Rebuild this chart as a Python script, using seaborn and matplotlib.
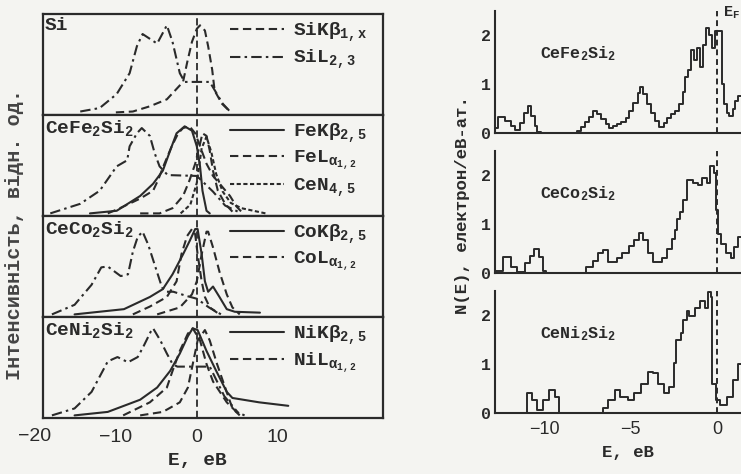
import matplotlib
matplotlib.use('Agg')
import matplotlib.pyplot as plt
import seaborn as sns

# ---------------- data: left panels (normalised intensity vs E, eV) ----------------
si_L_E = [-14.4, -12.0, -9.9, -8.3, -7.4, -6.7, -4.9, -3.7, -3.0, -2.1, -1.5, 1.6, 2.5, 3.2, 4.1]
si_L_I = [0.01, 0.05, 0.21, 0.45, 0.76, 0.90, 0.79, 1.00, 0.81, 0.45, 0.35, 0.35, 0.21, 0.10, 0.01]
si_K_E = [-10.0, -7.9, -5.8, -3.7, -2.5, -1.7, -1.2, -0.6, 0.0, 0.4, 1.0, 1.4, 1.9, 2.2, 3.1, 4.1]
si_K_I = [0.0, 0.01, 0.07, 0.15, 0.27, 0.35, 0.57, 0.81, 0.96, 1.00, 0.94, 0.76, 0.49, 0.25, 0.10, 0.01]

fe_siL_E = [-18.1, -14.4, -12.0, -9.9, -8.6, -8.3, -7.4, -6.8, -5.8, -5.2, -4.6, -3.6, 0.0, 2.0, 3.5, 5.3]
fe_siL_I = [0.0, 0.11, 0.26, 0.54, 0.61, 0.77, 0.92, 0.98, 0.89, 0.69, 0.54, 0.44, 0.43, 0.25, 0.09, 0.01]
fe_K_E = [-13.2, -9.9, -7.0, -5.4, -4.2, -3.3, -2.5, -1.5, -0.6, 0.0, 0.4, 0.7, 1.2, 1.6]
fe_K_I = [0.0, 0.03, 0.20, 0.34, 0.49, 0.72, 0.92, 1.00, 0.95, 0.77, 0.54, 0.26, 0.03, 0.0]
fe_L_E = [-11.0, -9.5, -7.0, -5.4, -4.8, -4.0, -3.1, -2.3, -1.7, -0.9, -0.2, 0.4, 1.2, 2.0, 3.1, 4.1, 4.9, 5.7]
fe_L_I = [0.0, 0.06, 0.17, 0.26, 0.38, 0.57, 0.77, 0.92, 0.98, 1.00, 0.92, 0.77, 0.57, 0.43, 0.31, 0.20, 0.08, 0.0]
fe_siK_E = [-7.0, -4.6, -3.0, -1.7, -0.9, -0.2, 0.4, 0.7, 1.2, 1.6, 2.0, 2.6, 3.5, 4.4]
fe_siK_I = [0.0, 0.0, 0.06, 0.20, 0.38, 0.57, 0.80, 0.92, 0.89, 0.72, 0.49, 0.26, 0.11, 0.02]
fe_ceN_E = [-2.0, -0.8, 0.0, 0.6, 1.2, 1.8, 2.4, 3.2, 4.2, 5.5, 7.0, 8.5]
fe_ceN_I = [0.0, 0.10, 0.35, 0.75, 0.88, 0.70, 0.45, 0.25, 0.12, 0.06, 0.03, 0.0]

co_siL_E = [-17.9, -15.1, -13.0, -11.8, -11.0, -9.4, -8.5, -7.9, -7.3, -6.7, -6.0, -5.1, -4.3, -3.7, -2.9, -1.2, 0.0, 1.5, 3.0]
co_siL_I = [0.0, 0.11, 0.34, 0.54, 0.55, 0.44, 0.46, 0.72, 0.89, 0.95, 0.80, 0.54, 0.31, 0.26, 0.26, 0.21, 0.18, 0.08, 0.0]
co_K_E = [-15.1, -9.0, -5.8, -4.2, -3.0, -1.7, -0.9, -0.2, 0.1, 0.6, 1.0, 1.4, 2.0, 2.8, 3.7, 4.7, 7.8]
co_K_I = [0.0, 0.06, 0.20, 0.29, 0.46, 0.69, 0.84, 0.98, 0.98, 0.69, 0.38, 0.26, 0.32, 0.20, 0.06, 0.03, 0.02]
co_L_E = [-7.9, -5.8, -3.7, -2.5, -1.9, -1.2, -0.6, -0.2, 0.1, 0.6, 1.0, 1.6, 2.8]
co_L_I = [0.0, 0.09, 0.20, 0.38, 0.69, 0.90, 0.98, 0.92, 0.69, 0.38, 0.20, 0.08, 0.0]
co_siK_E = [-4.9, -2.1, -0.6, 0.0, 0.6, 1.2, 1.4, 2.0, 2.8, 3.7, 4.4, 5.3]
co_siK_I = [0.0, 0.08, 0.23, 0.38, 0.69, 0.95, 0.95, 0.77, 0.49, 0.23, 0.08, 0.0]

ni_siL_E = [-17.9, -15.1, -13.0, -11.0, -9.8, -8.5, -7.3, -6.6, -5.7, -5.4, -4.5, -3.7, -3.0, -2.4, 0.0, 1.6, 3.4, 5.2]
ni_siL_I = [0.0, 0.08, 0.27, 0.62, 0.67, 0.61, 0.67, 0.79, 0.96, 1.00, 0.86, 0.71, 0.59, 0.56, 0.56, 0.56, 0.22, 0.02]
ni_K_E = [-15.1, -11.0, -7.0, -4.9, -3.3, -2.1, -1.1, -0.5, 0.1, 1.2, 2.4, 3.7, 4.4, 7.7, 11.3]
ni_K_I = [0.0, 0.04, 0.18, 0.32, 0.51, 0.71, 0.91, 1.00, 0.98, 0.74, 0.51, 0.27, 0.20, 0.15, 0.11]
ni_L_E = [-9.1, -5.8, -3.7, -3.0, -2.1, -1.1, -0.5, 0.4, 1.2, 2.0, 3.7, 4.9, 5.9]
ni_L_I = [0.0, 0.15, 0.32, 0.51, 0.74, 0.94, 1.00, 0.86, 0.59, 0.39, 0.15, 0.04, 0.0]
ni_siK_E = [-7.0, -4.2, -2.1, -1.1, -0.5, 0.1, 1.0, 1.6, 2.5, 3.5, 4.4, 5.3]
ni_siK_I = [0.0, 0.04, 0.15, 0.32, 0.59, 0.86, 0.98, 0.86, 0.59, 0.32, 0.08, 0.0]

# ---------------- data: right panels (DOS histograms, step edges) ----------------
dos_fe_E = [-12.85, -12.65, -12.25, -11.95, -11.7, -11.4, -11.2, -10.95, -10.75, -10.55, -10.4, -10.2,
            -8.1, -7.85, -7.65, -7.4, -7.2, -6.95, -6.7, -6.45, -6.25, -6.0, -5.8, -5.55, -5.3, -5.1,
            -4.85, -4.6, -4.45, -4.3, -4.05, -3.8, -3.6, -3.35, -3.1, -2.9, -2.65, -2.45, -2.2, -2.0,
            -1.85, -1.7, -1.5, -1.35, -1.15, -1.0, -0.8, -0.65, -0.45, -0.3, -0.15, 0.3, 0.4, 0.55,
            0.7, 0.9, 1.05, 1.2, 1.6]
dos_fe_N = [0.10, 0.33, 0.25, 0.15, 0.06, 0.20, 0.40, 0.55, 0.35, 0.15, 0.02, 0.0,
            0.05, 0.12, 0.22, 0.32, 0.45, 0.38, 0.28, 0.18, 0.10, 0.14, 0.18, 0.22, 0.30, 0.45,
            0.62, 0.82, 0.95, 0.80, 0.60, 0.42, 0.25, 0.12, 0.20, 0.30, 0.38, 0.45, 0.60, 0.85,
            1.15, 1.30, 1.70, 1.50, 1.75, 1.35, 1.80, 2.15, 2.00, 1.75, 2.10, 1.00, 0.60, 0.40,
            0.35, 0.50, 0.65, 0.75, 0.75]
dos_co_E = [-12.85, -12.4, -11.95, -11.6, -11.1, -10.8, -10.6, -10.3, -10.1, -9.9,
            -7.6, -7.2, -6.9, -6.6, -6.3, -5.8, -5.5, -5.1, -4.8, -4.5, -4.3, -4.0, -3.7, -3.2,
            -2.9, -2.6, -2.45, -2.3, -2.15, -2.0, -1.75, -1.4, -1.1, -0.85, -0.6, -0.4, -0.2,
            -0.05, 0.05, 0.2, 0.5, 0.8, 0.95, 1.2, 1.6]
dos_co_N = [0.05, 0.33, 0.12, 0.02, 0.20, 0.35, 0.50, 0.33, 0.05, 0.0,
            0.12, 0.25, 0.40, 0.47, 0.22, 0.30, 0.40, 0.55, 0.68, 0.82, 0.68, 0.40, 0.22, 0.30,
            0.50, 0.70, 0.88, 1.10, 1.25, 1.50, 1.90, 1.85, 1.80, 1.95, 1.85, 2.20, 2.05,
            1.30, 0.80, 0.60, 0.40, 0.30, 0.53, 0.73, 0.73]
dos_ni_E = [-12.85, -11.0, -10.7, -10.4, -10.1, -9.7, -9.4, -9.15,
            -6.6, -6.3, -5.9, -5.6, -5.15, -4.8, -4.4, -4.0, -3.7, -3.4, -3.1, -2.8, -2.5, -2.4,
            -2.1, -1.95, -1.75, -1.6, -1.3, -1.0, -0.7, -0.5, -0.35, -0.3, -0.05, 0.15, 0.55,
            0.9, 1.2, 1.6]
dos_ni_N = [0.0, 0.40, 0.27, 0.06, 0.27, 0.47, 0.33, 0.0,
            0.10, 0.27, 0.47, 0.33, 0.27, 0.40, 0.60, 0.84, 0.82, 0.60, 0.40, 0.53, 1.02, 1.50,
            1.63, 1.90, 2.10, 1.98, 2.16, 2.30, 2.16, 2.47, 2.37, 0.60, 0.27, 0.16, 0.33,
            0.67, 1.00, 1.05]

left_labels = ['Si', r'CeFe$_2$Si$_2$', r'CeCo$_2$Si$_2$', r'CeNi$_2$Si$_2$']
right_labels = [r'CeFe$_2$Si$_2$', r'CeCo$_2$Si$_2$', r'CeNi$_2$Si$_2$']
left_xticks = [-10, 0, 10]
right_xticks = [-10, -5, 0]
right_yticks = [0, 1, 2]

# ---------------- style ----------------
INK = '#2a2a2a'
BG = '#f4f4f1'
sns.set_theme(style='white', rc={'axes.facecolor': BG, 'figure.facecolor': BG})
plt.rcParams['font.family'] = ['Liberation Mono', 'DejaVu Sans']
plt.rcParams['font.weight'] = 'bold'
plt.rcParams['mathtext.fontset'] = 'custom'
plt.rcParams['mathtext.rm'] = 'Liberation Mono:bold'
plt.rcParams['mathtext.it'] = 'Liberation Mono:bold'
plt.rcParams['mathtext.bf'] = 'Liberation Mono:bold'
plt.rcParams['axes.edgecolor'] = INK
plt.rcParams['text.color'] = INK

DASH = (0, (4, 2.2))
DASHDOT = (0, (5, 2, 1.2, 2))
FINE = (0, (2, 1.2))
SOLID = '-'

fig = plt.figure(figsize=(7.41, 4.74), dpi=100)
W, H = 741.0, 474.0

def line(ax, E, I, ls, label=None, lw=1.5):
    sns.lineplot(x=E, y=I, ax=ax, color=INK, linestyle=ls, linewidth=lw,
                 estimator=None, sort=False, label=label, legend=False)

# ---------------- left stacked panels ----------------
tops = [14, 115, 216, 317]
ph = 101
left_axes = []
for k, top in enumerate(tops):
    ax = fig.add_axes([43 / W, 1 - (top + ph) / H, 340 / W, ph / H])
    left_axes.append(ax)
    ax.set_yticks([])
    ax.set_xticks(left_xticks)
    for s in ax.spines.values():
        s.set_linewidth(1.6)
        s.set_visible(True)
    ax.axvline(0, color=INK, linestyle=DASH, linewidth=1.3)
    ax.text(0.005, 0.975, left_labels[k], transform=ax.transAxes, ha='left', va='top',
            fontsize=14, fontweight='bold')

ax = left_axes[0]
line(ax, si_K_E, si_K_I, DASH, r'SiK$\beta_{1,x}$')
line(ax, si_L_E, si_L_I, DASHDOT, r'SiL$_{2,3}$')

ax = left_axes[1]
line(ax, fe_siL_E, fe_siL_I, DASHDOT)
line(ax, fe_siK_E, fe_siK_I, DASH)
line(ax, fe_K_E, fe_K_I, SOLID, r'FeK$\beta_{2,5}$')
line(ax, fe_L_E, fe_L_I, DASH, r'FeL$_{\alpha_{1,2}}$')
line(ax, fe_ceN_E, fe_ceN_I, FINE, r'CeN$_{4,5}$')

ax = left_axes[2]
line(ax, co_siL_E, co_siL_I, DASHDOT)
line(ax, co_siK_E, co_siK_I, DASH)
line(ax, co_K_E, co_K_I, SOLID, r'CoK$\beta_{2,5}$')
line(ax, co_L_E, co_L_I, DASH, r'CoL$_{\alpha_{1,2}}$')

ax = left_axes[3]
line(ax, ni_siL_E, ni_siL_I, DASHDOT)
line(ax, ni_siK_E, ni_siK_I, DASH)
line(ax, ni_K_E, ni_K_I, SOLID, r'NiK$\beta_{2,5}$')
line(ax, ni_L_E, ni_L_I, DASH, r'NiL$_{\alpha_{1,2}}$')

for ax in left_axes:
    ax.set_xlim(-19, 23)
    ax.set_ylim(-0.03, 1.13)
    ax.set_xlabel('')
    ax.set_ylabel('')
    h, l = ax.get_legend_handles_labels()
    ax.legend(h, l, loc='upper left', bbox_to_anchor=((222 - 43) / 340, 1.02),
              frameon=False, handlelength=2.8, handletextpad=0.45, labelspacing=0.2,
              borderaxespad=0.0, prop={'family': 'Liberation Mono', 'weight': 'bold', 'size': 14})

for ax in left_axes[:-1]:
    ax.tick_params(axis='x', labelbottom=False, length=0)
bax = left_axes[-1]
bax.tick_params(axis='x', direction='in', length=3, width=1, pad=8, labelsize=14, colors=INK)
for t in bax.get_xticklabels():
    t.set_fontfamily('Liberation Sans')
    t.set_fontweight('normal')
bax.text(-20, -0.10, '\u221220', transform=bax.get_xaxis_transform(), ha='center', va='top',
         fontsize=14, family='Liberation Sans', fontweight='normal', clip_on=False)
fig.text(197 / W, 1 - 460 / H, 'E, eB', ha='center', va='center', fontsize=14, fontweight='bold')
fig.text(15 / W, 1 - 235 / H, 'Інтенсивність, відн. од.', rotation=90, ha='center', va='center',
         fontsize=14.5, fontweight='bold', color='#444444')

# ---------------- right DOS panels ----------------
zero_y = [133, 273, 413]
rh = 122
right_axes = []
dos_E = [dos_fe_E, dos_co_E, dos_ni_E]
dos_N = [dos_fe_N, dos_co_N, dos_ni_N]
for k, z in enumerate(zero_y):
    ax = fig.add_axes([495 / W, 1 - z / H, 274 / W, rh / H])
    right_axes.append(ax)
    sns.lineplot(x=dos_E[k], y=dos_N[k], ax=ax, color=INK, linewidth=1.4,
                 drawstyle='steps-post', estimator=None, sort=False, legend=False)
    ax.axvline(0, color=INK, linestyle=(0, (3, 2)), linewidth=1.4)
    for side in ['top', 'right']:
        ax.spines[side].set_visible(False)
    for side in ['left', 'bottom']:
        ax.spines[side].set_linewidth(1.5)
    ax.set_yticks(right_yticks)
    ax.set_xticks(right_xticks)
    ax.set_xlim(-12.85, 3.0)
    ax.set_ylim(0, 2.5)
    ax.tick_params(axis='both', direction='in', length=5, width=1.2, colors=INK)
    ax.tick_params(axis='y', labelsize=12, pad=3)
    ax.set_xlabel('')
    ax.set_ylabel('')
    ax.text(0.164, 0.65, right_labels[k], transform=ax.transAxes, ha='left', va='center',
            fontsize=12, fontweight='bold')
    if k < 2:
        ax.tick_params(axis='x', labelbottom=False)
    else:
        ax.tick_params(axis='x', labelsize=13, pad=6)
        for t in ax.get_xticklabels():
            t.set_fontfamily('Liberation Sans')
            t.set_fontweight('normal')

right_axes[0].text(0.35, 2.3, r'E$_F$', ha='left', va='bottom', fontsize=11, fontweight='bold',
                   clip_on=False)
fig.text(628 / W, 1 - 452 / H, 'E, eB', ha='center', va='center', fontsize=12.5, fontweight='bold')
fig.text(462 / W, 1 - 205 / H, 'N(E), електрон/еВ-ат.', rotation=90, ha='center', va='center',
         fontsize=12.5, fontweight='bold')

fig.savefig('out.png', dpi=100, facecolor=BG)
